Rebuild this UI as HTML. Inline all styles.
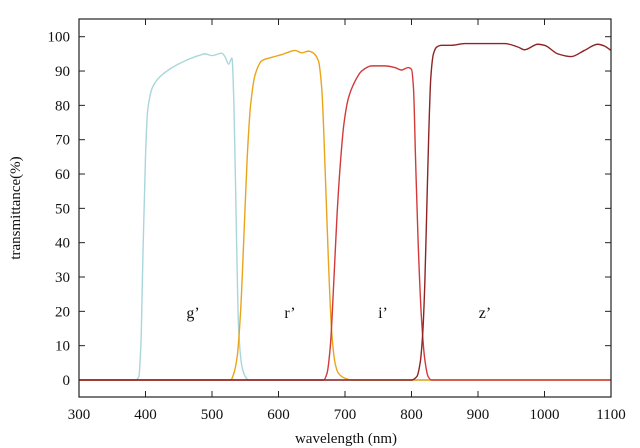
<!DOCTYPE html>
<html><head><meta charset="utf-8"><style>
html,body{margin:0;padding:0;background:#fff}
svg{display:block}
text{font-family:"Liberation Serif",serif;fill:#111}
</style></head><body>
<svg id="chart" width="640" height="448" xmlns="http://www.w3.org/2000/svg">
<g id="axes"></g>
<g id="series"></g>
<rect x="79" y="19" width="532" height="378" fill="none" stroke="#222" stroke-width="1.2"/>
<text x="346" y="443" font-size="15" text-anchor="middle">wavelength (nm)</text>
<text transform="translate(20,208) rotate(-90)" font-size="15" text-anchor="middle">transmittance(%)</text>
<text x="193" y="318" font-size="16" text-anchor="middle">g’</text>
<text x="290" y="318" font-size="16" text-anchor="middle">r’</text>
<text x="383" y="318" font-size="16" text-anchor="middle">i’</text>
<text x="485" y="318" font-size="16" text-anchor="middle">z’</text>
</svg>
<script>
const xTicks=[300,400,500,600,700,800,900,1000,1100];
const yTicks=[0,10,20,30,40,50,60,70,80,90,100];
const gWl=[300,385,390,393,396,400,403,406,410,420,440,460,480,490,500,515,520,525,530,533,537,540,545,550,555,1100];
const gT=[0,0,1,10,35,65,78,82,85,88,91,93,94.5,95,94.5,95.2,94,92,93.8,80,40,15,4,1,0,0];
const rWl=[300,528,533,538,543,548,553,558,565,575,590,605,615,625,635,645,652,660,665,670,675,680,685,690,700,710,1100];
const rT=[0,0,2,7,20,42,65,80,89,93,94,94.8,95.5,96,95.3,95.8,95.3,93,85,62,35,14,5,2,0.5,0,0];
const iWl=[300,668,673,678,683,688,693,698,705,715,725,740,760,775,785,795,800,803,806,810,815,820,825,830,1100];
const iT=[0,0,2,10,28,48,63,74,82,87,90,91.5,91.5,91,90.3,91,90.5,85,65,40,18,6,1,0,0];
const zWl=[300,800,808,813,817,820,823,826,829,833,838,845,860,880,920,940,960,970,990,1000,1020,1040,1060,1080,1090,1100];
const zT=[0,0,1,5,14,28,50,72,88,95,97,97.5,97.5,98,98,98,97,96.2,97.8,97.5,95,94.2,96,97.8,97.3,96];
const X=v=>79+(v-300)*532/800;
const Y=v=>380-v*3.433;
const NS="http://www.w3.org/2000/svg";
const axes=document.getElementById('axes');
function mk(tag,attrs,parent){const e=document.createElementNS(NS,tag);for(const k in attrs)e.setAttribute(k,attrs[k]);parent.appendChild(e);return e;}
xTicks.forEach(v=>{
 const x=X(v);
 const t1=mk('line',{x1:x,x2:x,y1:397,y2:391,stroke:'#222'},axes);
 
 
 const t2=mk('line',{x1:x,x2:x,y1:19,y2:25,stroke:'#222'},axes);
 
 
 const l=mk('text',{x:x,y:419,'font-size':15,'text-anchor':'middle'},axes);
 l.textContent=v;
 
 
});
yTicks.forEach(v=>{
 const y=Y(v);
 const t1=mk('line',{x1:79,x2:85,y1:y,y2:y,stroke:'#222'},axes);
 
 
 const t2=mk('line',{x1:611,x2:605,y1:y,y2:y,stroke:'#222'},axes);
 
 
 const l=mk('text',{x:70,y:y+5,'font-size':15,'text-anchor':'end'},axes);
 l.textContent=v;
 
 
});
function path(wl,t){
 const xs=wl.map(X),ys=t.map(Y),n=xs.length;
 const d=[],m=new Array(n).fill(0);
 for(let i=0;i<n-1;i++)d.push((ys[i+1]-ys[i])/(xs[i+1]-xs[i]));
 m[0]=d[0];m[n-1]=d[n-2];
 for(let i=1;i<n-1;i++){
  if(d[i-1]*d[i]<=0)m[i]=0;
  else{const w1=2*(xs[i+1]-xs[i])+(xs[i]-xs[i-1]),w2=(xs[i+1]-xs[i])+2*(xs[i]-xs[i-1]);m[i]=(w1+w2)/(w1/d[i-1]+w2/d[i]);}
 }
 let s='M'+xs[0]+','+ys[0];
 for(let i=0;i<n-1;i++){
  const h=(xs[i+1]-xs[i])/3;
  s+=' C'+(xs[i]+h)+','+(ys[i]+m[i]*h)+' '+(xs[i+1]-h)+','+(ys[i+1]-m[i+1]*h)+' '+xs[i+1]+','+ys[i+1];
 }
 return s;
}
const ser=document.getElementById('series');
const s1=mk('path',{d:path(gWl,gT),fill:'none',stroke:'#a9d6dc','stroke-width':1.4},ser);


const s2=mk('path',{d:path(rWl,rT),fill:'none',stroke:'#e9a51a','stroke-width':1.4},ser);


const s3=mk('path',{d:path(iWl,iT),fill:'none',stroke:'#d23a3a','stroke-width':1.4},ser);


const s4=mk('path',{d:path(zWl,zT),fill:'none',stroke:'#8e2424','stroke-width':1.4},ser);


</script>
</body></html>
